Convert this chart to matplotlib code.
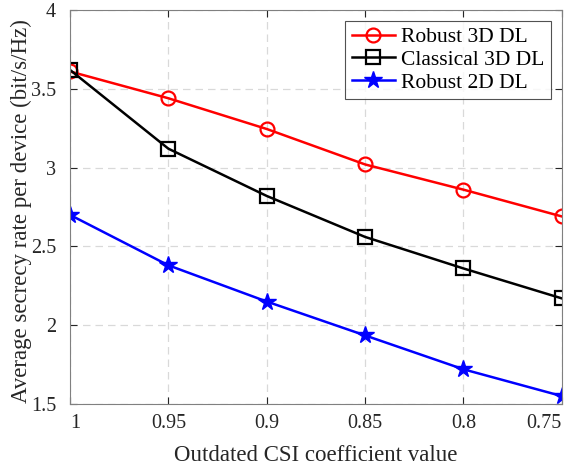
import numpy as np
import matplotlib.pyplot as plt

plt.rcParams['font.family'] = ['Liberation Serif', 'DejaVu Serif']
plt.rcParams['mathtext.fontset'] = 'stix'

# outdated CSI coefficient
rho = [1.0, 0.95, 0.9, 0.85, 0.8, 0.75]
robust_3d = [3.61, 3.44, 3.245, 3.02, 2.86, 2.69]
classical_3d = [3.62, 3.12, 2.82, 2.56, 2.36, 2.17]
robust_2d = [2.70, 2.38, 2.15, 1.935, 1.72, 1.55]

xticks = [1, 0.95, 0.9, 0.85, 0.8, 0.75]
xticklabels = ['1', '0.95', '0.9', '0.85', '0.8', '0.75']
yticks = [1.5, 2, 2.5, 3, 3.5, 4]
yticklabels = ['1.5', '2', '2.5', '3', '3.5', '4']

fig = plt.figure(figsize=(5.71, 4.68), dpi=100)
ax = fig.add_axes([0.1226, 0.1368, 0.8614, 0.8418])

ax.plot(rho, robust_3d, '-o', color='red', lw=1.8, ms=10, mfc='none', mew=1.6,
        label='Robust 3D DL')
ax.plot(rho, classical_3d, '-s', color='black', lw=1.8, ms=10, mfc='none', mew=1.6,
        label='Classical 3D DL')
ax.plot(rho, robust_2d, '-*', color='blue', lw=1.8, ms=13, mew=1.0,
        label='Robust 2D DL')

ax.set_xlim(1, 0.75)
ax.set_ylim(1.5, 4)
ax.set_xticks(xticks)
ax.set_xticklabels(xticklabels)
ax.set_yticks(yticks)
ax.set_yticklabels(yticklabels)
ax.tick_params(direction='in', labelsize=14.5, colors='#262626', length=5,
               top=True, right=True)
ax.tick_params(axis='x', pad=7)
ax.tick_params(axis='y', pad=10)
# keep the end labels inside the figure, like MATLAB does
xl = ax.get_xticklabels()
xl[0].set_horizontalalignment('left')
xl[0].set_x(0.999)
xl[-1].set_horizontalalignment('right')
for s in ax.spines.values():
    s.set_color('#808080')
ax.grid(True, ls=(0, (6, 4)), color='#d9d9d9', lw=0.9)

ax.set_xlabel('Outdated CSI coefficient value', fontsize=16.5, color='#262626',
              labelpad=9)
ax.set_ylabel('Average secrecy rate per device (bit/s/Hz)', fontsize=16.5,
              color='#262626')
ax.yaxis.set_label_coords(-0.077, 0.49)

leg = ax.legend(loc='upper right', fontsize=15.5, frameon=True, fancybox=False,
                edgecolor='#262626', borderpad=0.3, labelspacing=0.12,
                handlelength=2.0, handletextpad=0.3, borderaxespad=0.5)
leg.get_frame().set_linewidth(0.8)

fig.savefig('out.png', dpi=100)
